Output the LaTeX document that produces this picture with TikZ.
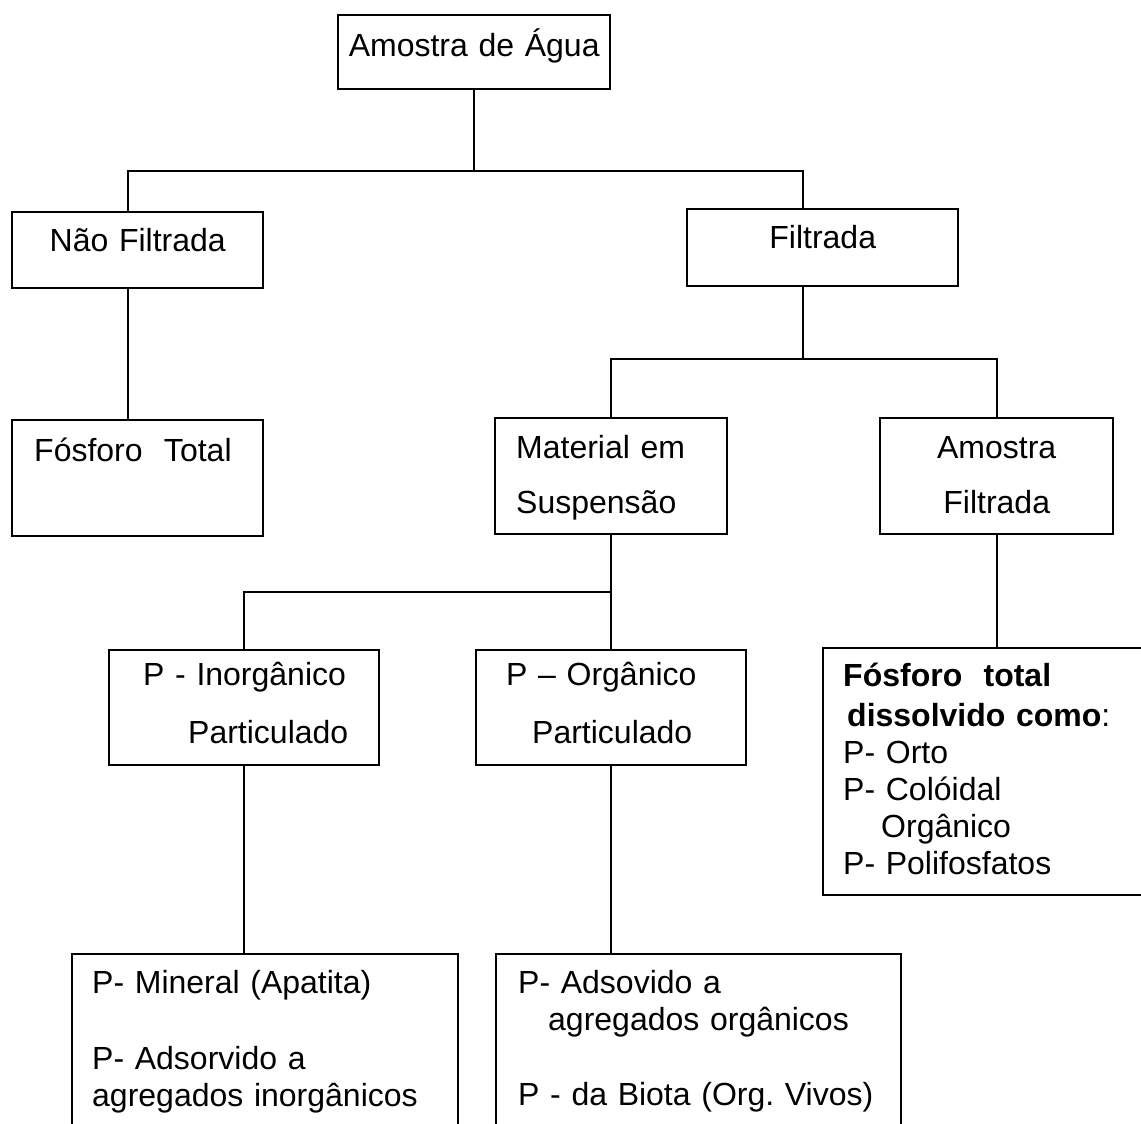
\documentclass[tikz,border=0pt]{standalone}
\usepackage{fontspec}
\setmainfont{Liberation Sans}
\usepackage{tikz}
\newcommand\fontecaixa{\fontsize{16}{18.5}\selectfont\frenchspacing}
\tikzset{
  % A box of the tree: the text width is the argument
  caixa/.style={
    draw=black, line width=1.2pt, rectangle, anchor=north west,
    align=left, font=\fontecaixa,
    inner ysep=0pt, text width=#1},
  % A box with its text centred
  caixac/.style={caixa=#1, align=center, inner xsep=4pt},
  % Lines between boxes
  liga/.style={draw=black, line width=1.2pt},
}

\begin{document}
\begin{tikzpicture}[x=0.5pt,y=-0.5pt]

\useasboundingbox (0,0) rectangle (1141,1124);
\fill[white] (0,0) rectangle (1141,1124);
\clip (0,0) rectangle (1141,1124);

\node[caixac=128pt, text height=20.5pt, text depth=16.5pt] (agua) at (337,14) {Amostra de Água};

\node[caixac=117.5pt, text height=19.5pt, text depth=18.5pt] (naofilt) at (11,211) {Não Filtrada};
\node[caixac=127.5pt, text height=19.5pt, text depth=19pt] (filt) at (686,208) {Filtrada};

\node[caixa=103.5pt, inner xsep=11pt, text height=20.5pt, text depth=37.5pt] (ptotal) at (11,419) {Fósforo\ \ Total};
\node[caixa=95pt, inner xsep=10.5pt, text height=20pt, text depth=38pt] (material) at (494,417) {
  Material em\\[9pt]
  Suspensão};
\node[caixac=108.5pt, text height=20pt, text depth=38pt] (amfilt) at (879,417) {
  Amostra\\[9pt]
  Filtrada};

\node[caixa=101pt, inner xsep=17pt, text height=17.5pt, text depth=40pt] (pinorg) at (108,649) {
  \mbox{P - Inorgânico}\\[10.5pt]
  \hspace*{22.5pt}\mbox{Particulado}};
\node[caixa=105pt, inner xsep=15pt, text height=17.5pt, text depth=40pt] (porg) at (475,649) {
  \mbox{P -- Orgânico}\\[10.5pt]
  \hspace*{13pt}\mbox{Particulado}};
\node[caixa=159pt, inner xsep=10pt, text height=19pt, text depth=104.5pt] (dissolv) at (822,647) {
  \textbf{Fósforo\ \ total}\\[1.5pt]
  \hspace*{2pt}\textbf{dissolvido como}:\\
  P- Orto\\
  P- Colóidal\\
  \hspace*{19pt}Orgânico\\
  P- Polifosfatos};

\node[caixa=173pt, inner xsep=10pt, text height=19.5pt, text depth=89pt] (pmin) at (71,953) {
  P- Mineral (Apatita)\\[19.5pt]
  P- Adsorvido a\\
  agregados inorgânicos};
\node[caixa=180.5pt, inner xsep=11pt, text height=19.5pt, text depth=89pt] (pads) at (495,953) {
  P- Adsovido a\\
  \hspace*{15pt}agregados orgânicos\\[19pt]
  P - da Biota (Org. Vivos)};

\coordinate (tronco1) at (agua.south |- 0,171);
\coordinate (tronco2) at ([xshift=-9.75pt]filt.south |- 0,359);
\coordinate (tronco3) at (material.south |- 0,592);

\draw[liga] (agua.south) -- (tronco1);
\draw[liga] ([xshift=-4.75pt]naofilt.north) |- (tronco1) -| ([xshift=-9.75pt]filt.north);
\draw[liga] ([xshift=-4.75pt]naofilt.south) -- ([xshift=-4.75pt]ptotal.north);
\draw[liga] ([xshift=-9.75pt]filt.south) -- (tronco2);
\draw[liga] (material.north) |- (tronco2) -| (amfilt.north);
\draw[liga] (material.south) -- (porg.north);
\draw[liga] (pinorg.north) |- (tronco3);
\draw[liga] (amfilt.south) -- (amfilt.south |- dissolv.north);
\draw[liga] (pinorg.south) -- (pinorg.south |- pmin.north);
\draw[liga] (porg.south) -- (porg.south |- pads.north);

\end{tikzpicture}
\end{document}
